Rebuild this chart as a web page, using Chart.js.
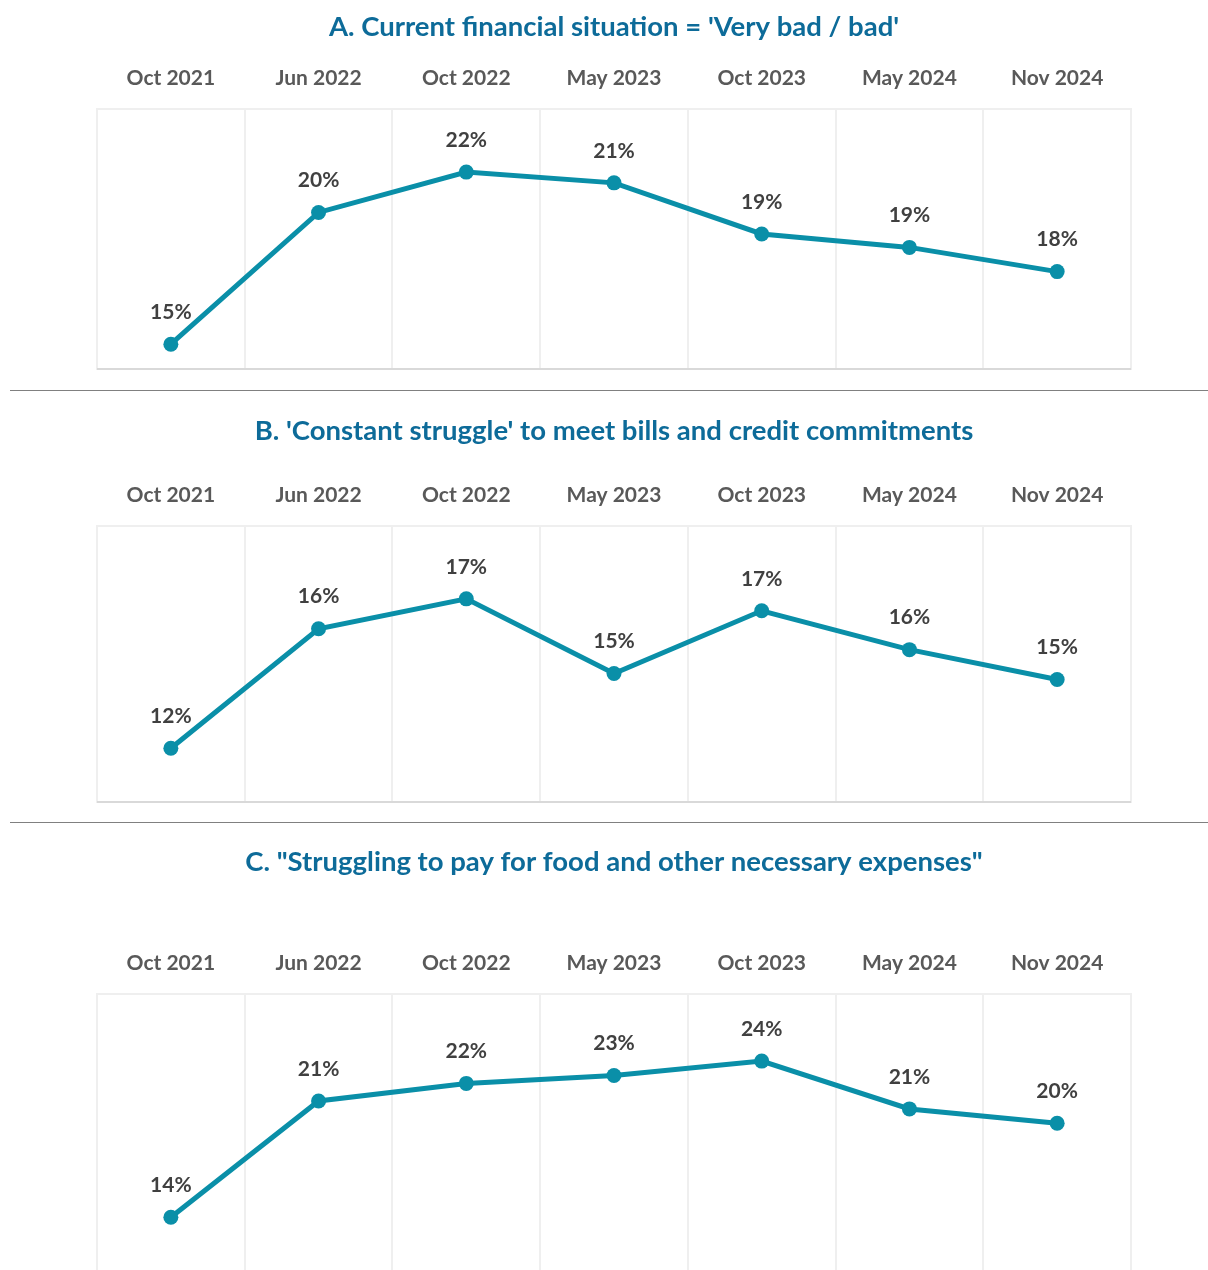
<!DOCTYPE html>
<html>
<head>
<meta charset="utf-8">
<script src="https://cdn.jsdelivr.net/npm/chart.js@4.4.1/dist/chart.umd.min.js"></script>
<style>
	html, body { margin: 0; padding: 0; background: #fff; }
	body { width: 1208px; height: 1270px; overflow: hidden; position: relative; }
	.panel { position: absolute; left: 0; width: 1208px; }
	.sep { position: absolute; left: 10px; width: 1198px; height: 1px; background: #808080; }
</style>
</head>
<body>
<div class="panel" id="boxA" style="top:0px;height:372px"><canvas id="chartA"></canvas></div>
<div class="sep" style="top:390px"></div>
<div class="panel" id="boxB" style="top:392px;height:413px"><canvas id="chartB"></canvas></div>
<div class="sep" style="top:822px"></div>
<div class="panel" id="boxC" style="top:824px;height:446px"><canvas id="chartC"></canvas></div>
<script>
var waves = ["Oct 2021", "Jun 2022", "Oct 2022", "May 2023", "Oct 2023", "May 2024", "Nov 2024"];

// share of respondents, %
var badSituation = [15.2, 20.1, 21.6, 21.2, 19.3, 18.8, 17.9];
var constantStruggle = [12.3, 16.3, 17.3, 14.8, 16.9, 15.6, 14.6];
var foodStruggle = [13.9, 21.2, 22.3, 22.8, 23.7, 20.7, 19.8];

var titleA = "A. Current financial situation = 'Very bad / bad'";
var titleB = "B. 'Constant struggle' to meet bills and credit commitments";
var titleC = "C. \"Struggling to pay for food and other necessary expenses\"";

var lineColor = "#0a8fa8";
var fontName = "Lato, 'Open Sans', sans-serif";

// frame bottom line + value labels
var extras = {
	id: "extras",
	afterDatasetsDraw: function(chart, args, opts) {
		var ctx = chart.ctx;
		var area = chart.chartArea;
		ctx.save();
		if (opts.bottomLine) {
			ctx.strokeStyle = "#d9d9d9";
			ctx.lineWidth = 2;
			ctx.beginPath();
			ctx.moveTo(area.left, area.bottom - 1);
			ctx.lineTo(area.right, area.bottom - 1);
			ctx.stroke();
		}
		var meta = chart.getDatasetMeta(0);
		var data = chart.data.datasets[0].data;
		ctx.fillStyle = "#404040";
		ctx.font = "bold 21px " + fontName;
		ctx.textAlign = "center";
		ctx.textBaseline = "middle";
		for (var i = 0; i < meta.data.length; i++) {
			var pt = meta.data[i];
			ctx.fillText(Math.round(data[i]) + "%", pt.x, pt.y - 32);
		}
		ctx.restore();
	}
};

function makeChart(id, title, values, yMin, yMax, padTop, titleGap, bottomLine) {
	return new Chart(document.getElementById(id), {
		type: "line",
		data: {
			labels: waves,
			datasets: [{
				data: values,
				borderColor: lineColor,
				backgroundColor: lineColor,
				borderWidth: 5,
				pointRadius: 7.5,
				pointHoverRadius: 7.5,
				pointBackgroundColor: lineColor,
				pointBorderWidth: 0,
				tension: 0,
				clip: false
			}]
		},
		options: {
			responsive: true,
			maintainAspectRatio: false,
			animation: false,
			events: [],
			layout: {
				autoPadding: false,
				padding: { top: padTop, left: 97, right: 77, bottom: bottomLine ? 2 : 0 }
			},
			plugins: {
				legend: { display: false },
				tooltip: { enabled: false },
				title: {
					display: true,
					text: title,
					color: "#0d6b99",
					font: { family: fontName, size: 27.5, weight: "bold", lineHeight: 1.2 },
					padding: { top: 0, bottom: titleGap }
				},
				extras: { bottomLine: bottomLine }
			},
			scales: {
				x: {
					position: "top",
					offset: true,
					grid: { offset: true, color: "#efefef", lineWidth: 2, drawTicks: false },
					border: { display: true, color: "#efefef", width: 2 },
					ticks: {
						color: "#595959",
						padding: 18,
						font: { family: fontName, size: 21, weight: "bold", lineHeight: 1.2 }
					}
				},
				y: {
					display: false,
					min: yMin,
					max: yMax
				}
			}
		},
		plugins: [extras]
	});
}

makeChart("chartA", titleA, badSituation, 14.24, 23.94, 10.5, 4.5, true);
makeChart("chartB", titleB, constantStruggle, 10.47, 19.73, 22.5, 17.5, true);
makeChart("chartC", titleC, foodStruggle, 10.59, 27.9, 21.5, 54.5, false);
</script>
</body>
</html>
